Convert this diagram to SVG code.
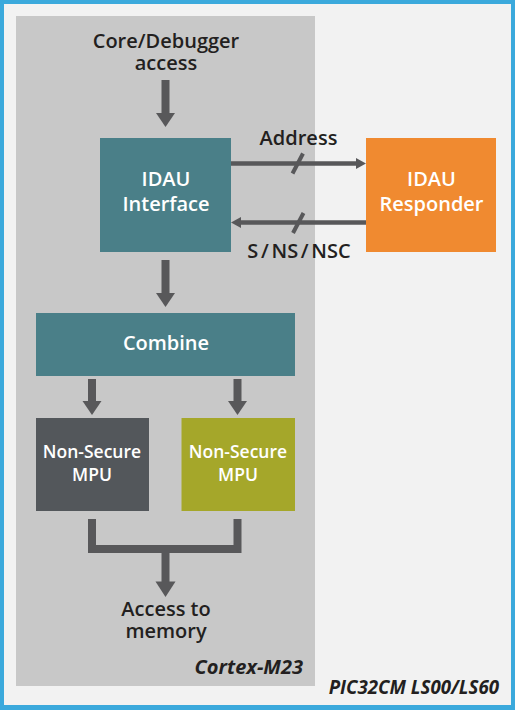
<svg xmlns="http://www.w3.org/2000/svg" width="515" height="710" viewBox="0 0 515 710">
<style>
.t{font-family:"Open Sans","Liberation Sans",sans-serif;font-weight:600;font-size:20px;text-anchor:middle}
.s{font-size:17.5px}
.d{fill:#231f20}
.w{fill:#ffffff}
.i{font-style:italic;font-weight:700;text-anchor:end;fill:#231f20}
.ln{stroke:#58585a;fill:none}
.ah{fill:#58585a}
</style>
<rect x="0" y="0" width="515" height="710" fill="#3ba9dc"/>
<rect x="4" y="4" width="507" height="701" fill="#f2f2f2"/>
<g id="cortex">
<rect x="16" y="16" width="299" height="670" fill="#c8c8c8"/>
<text class="t i" x="303" y="674">Cortex-M23</text>
</g>
<g id="chip-label"><text class="t i" x="499" y="694" style="font-size:18.7px">PIC32CM LS00/LS60</text></g>
<g id="core-access"><text class="t d" x="166" y="48">Core/Debugger</text><text class="t d" x="166" y="70">access</text></g>
<g id="idau-interface">
<rect x="100" y="138" width="131" height="114" fill="#4a7f88"/>
<text class="t w" x="166" y="186">IDAU</text><text class="t w" x="166" y="211">Interface</text>
</g>
<g id="idau-responder">
<rect x="366" y="138" width="130" height="114" fill="#f08a30"/>
<text class="t w" x="431.5" y="186">IDAU</text><text class="t w" x="431.5" y="211">Responder</text>
</g>
<g id="combine">
<rect x="36" y="313" width="259" height="63" fill="#4a7f88"/>
<text class="t w" x="166" y="350">Combine</text>
</g>
<g id="ns-mpu-1">
<rect x="36" y="418" width="113" height="93" fill="#53575b"/>
<text class="t s w" x="92" y="458">Non-Secure</text><text class="t s w" x="92" y="481">MPU</text>
</g>
<g id="ns-mpu-2">
<rect x="181.5" y="418" width="113.5" height="93" fill="#a5a72a"/>
<text class="t s w" x="238" y="458">Non-Secure</text><text class="t s w" x="238" y="481">MPU</text>
</g>
<g id="memory-access"><text class="t d" x="166" y="616">Access to</text><text class="t d" x="166" y="638">memory</text></g>
<g id="connectors">
<line class="ln" x1="165.5" y1="80" x2="165.5" y2="114" stroke-width="8"/>
<polygon class="ah" points="156,113 175,113 165.5,127"/>
<line class="ln" x1="165.5" y1="260" x2="165.5" y2="294" stroke-width="8"/>
<polygon class="ah" points="156,293 175,293 165.5,307"/>
<line class="ln" x1="231" y1="163.5" x2="358" y2="163.5" stroke-width="4.5"/>
<polygon class="ah" points="356,158 366,163.5 356,169"/>
<line class="ln" x1="292.5" y1="173.5" x2="303" y2="153.5" stroke-width="4"/>
<text class="t d" x="298.5" y="145">Address</text>
<line class="ln" x1="366" y1="222.5" x2="239" y2="222.5" stroke-width="4.5"/>
<polygon class="ah" points="241,217 231,222.5 241,228"/>
<line class="ln" x1="293" y1="233" x2="303.5" y2="213" stroke-width="4"/>
<text class="t d" x="299" y="258" style="word-spacing:-2.5px">S / NS / NSC</text>
<line class="ln" x1="92" y1="379" x2="92" y2="403" stroke-width="8"/>
<polygon class="ah" points="82.5,401 101.5,401 92,415"/>
<line class="ln" x1="237.5" y1="379" x2="237.5" y2="403" stroke-width="8"/>
<polygon class="ah" points="228,401 247,401 237.5,415"/>
<polyline class="ln" points="92,519 92,549 237.5,549 237.5,519" stroke-width="8" stroke-linejoin="miter"/>
<line class="ln" x1="165.5" y1="549" x2="165.5" y2="583" stroke-width="8"/>
<polygon class="ah" points="155.5,581.5 175.5,581.5 165.5,597"/>
</g>
</svg>
